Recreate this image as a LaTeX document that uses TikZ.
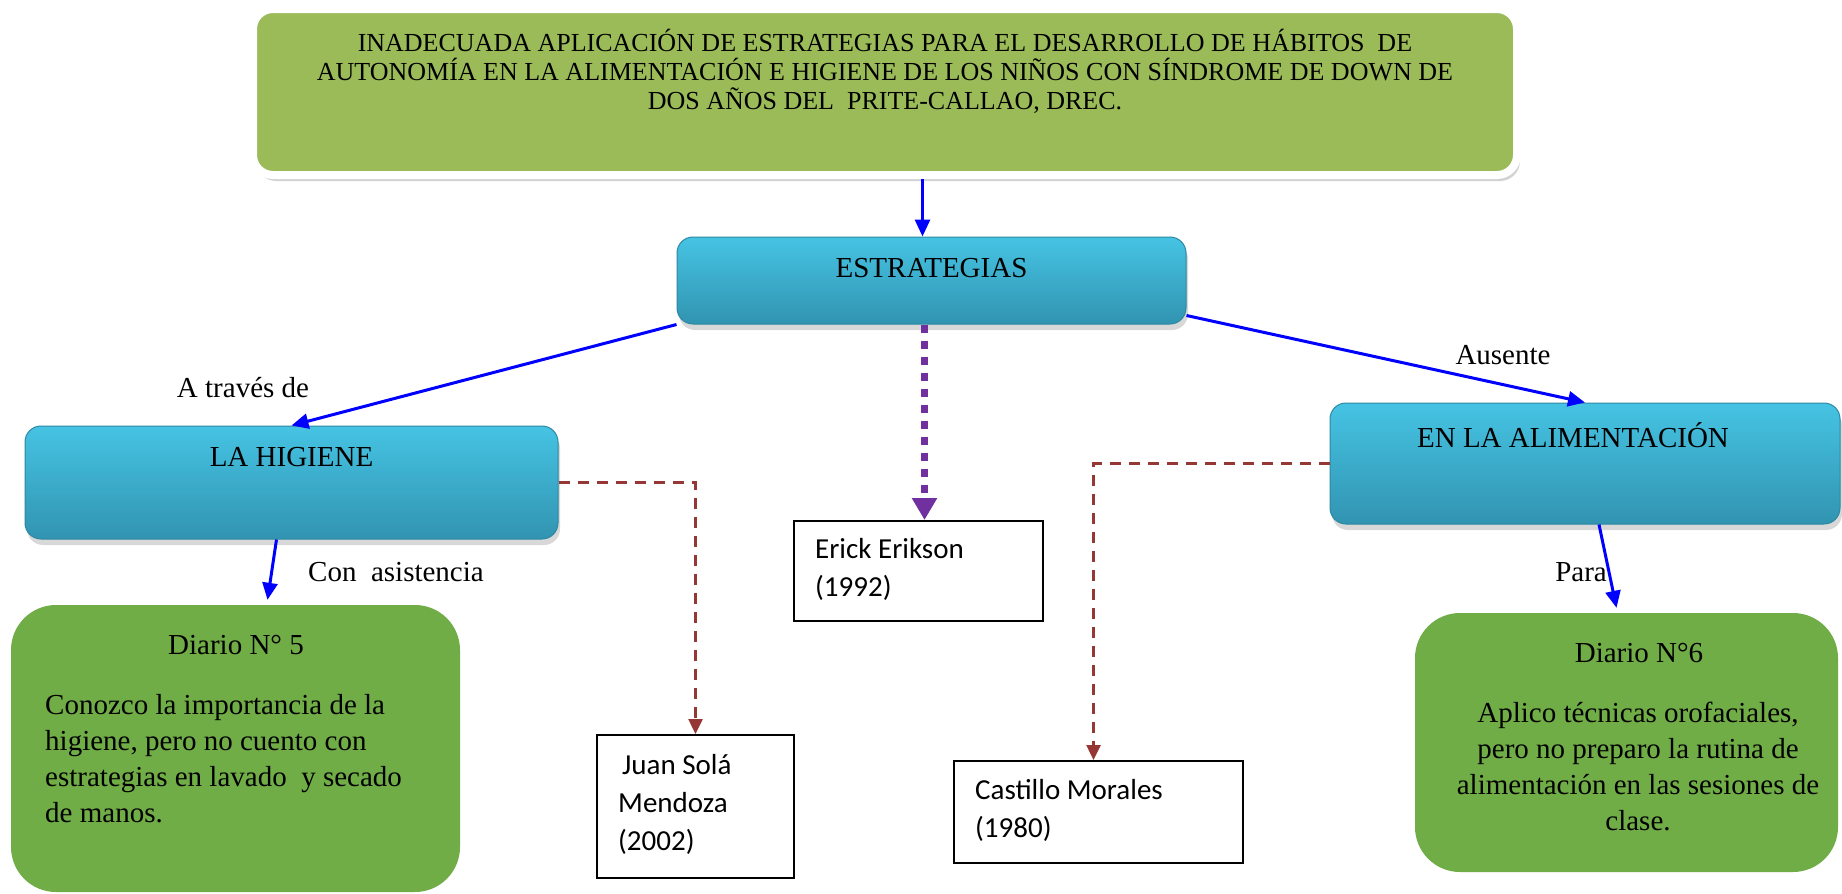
\documentclass[tikz,border=0pt]{standalone}
\usepackage{fontspec}
\setmainfont{Liberation Serif}
\newfontfamily\calibri{Carlito}
\usetikzlibrary{arrows.meta,shadows}
\definecolor{verdetitulo}{HTML}{9BBB59}
\definecolor{verdediario}{HTML}{70AD47}
\definecolor{azulclaro}{HTML}{46C3E3}
\definecolor{azuloscuro}{HTML}{3194B1}
\definecolor{azulborde}{HTML}{2C88A3}
\definecolor{rojo}{HTML}{953735}
\definecolor{morado}{HTML}{7030A0}
\newcommand{\letragrande}{\fontsize{29}{36}\selectfont}
\newcommand{\letratitulo}{\fontsize{26}{29}\selectfont}
\newcommand{\letraautor}{\calibri\fontsize{29}{38}\selectfont}
\tikzset{
  cajatitulo/.style={draw=white, line width=8pt, fill=verdetitulo, rounded corners=20pt,
    inner sep=0pt, drop shadow={shadow xshift=3pt, shadow yshift=-6pt, opacity=0.35}},
  cajaazul/.style={draw=azulborde, line width=1pt, top color=azulclaro, bottom color=azuloscuro,
    rounded corners=16pt, inner sep=0pt, drop shadow={shadow xshift=2pt, shadow yshift=-6pt, opacity=0.3}},
  cajaverde/.style={fill=verdediario, rounded corners=45pt, inner sep=0pt},
  cajaautor/.style={draw=black, line width=2pt, fill=white, inner sep=0pt},
  texto/.style={font=\letragrande, inner sep=0pt},
  flechaazul/.style={blue, line width=3pt, -{Triangle[length=17pt,width=15pt]}},
  flecharoja/.style={rojo, line width=2.5pt, dash pattern=on 11pt off 8pt, -{Triangle[length=15pt,width=14pt]}},
  flechamorada/.style={morado, line width=7pt, dash pattern=on 8pt off 8pt, -{Triangle[length=22pt,width=24pt]}}
}
\begin{document}
\begin{tikzpicture}[x=1pt,y=-1pt]
\useasboundingbox[fill=white] (0,0) rectangle (1842,894);
% cajas
\node[cajatitulo, minimum width=1264pt, minimum height=166pt] (titulo) at (885,92) {};
\node[texto, font=\letratitulo, align=center] (tituloTxt) at (885,71)
  {INADECUADA APLICACIÓN DE ESTRATEGIAS PARA EL DESARROLLO DE HÁBITOS\ \ DE\\
   AUTONOMÍA EN LA ALIMENTACIÓN E HIGIENE DE LOS NIÑOS CON SÍNDROME DE DOWN DE\\
   DOS AÑOS DEL\ \ PRITE-CALLAO, DREC.};
\node[cajaazul, minimum width=509pt, minimum height=87pt] (estrategias) at (931.5,280.5) {};
\node[texto] (estrategiasTxt) at ([yshift=12pt]estrategias.center) {ESTRATEGIAS};
\node[cajaazul, minimum width=533pt, minimum height=113pt] (higiene) at (291.5,482.5) {};
\node[texto] (higieneTxt) at ([yshift=25pt]higiene.center) {LA HIGIENE};
\node[cajaazul, minimum width=510pt, minimum height=121pt] (alimentacion) at (1585,463.5) {};
\node[texto] (alimentacionTxt) at ([xshift=-12pt,yshift=28pt]alimentacion.center) {EN LA ALIMENTACIÓN};
% diarios
\node[cajaverde, minimum width=449pt, minimum height=287pt] (diarioA) at (235.5,748.5) {};
\node[texto] (diarioATit) at (236,645) {Diario N° 5};
\node[texto, align=left, anchor=west] (diarioATxt) at (45,759)
  {Conozco la importancia de la\\ higiene, pero no cuento con\\ estrategias en lavado\ \ y secado\\ de manos.};
\node[cajaverde, minimum width=423pt, minimum height=259pt] (diarioB) at (1626.5,742.5) {};
\node[texto] (diarioBTit) at (1639,653) {Diario N°6};
\node[texto, align=center] (diarioBTxt) at (1638,766)
  {Aplico técnicas orofaciales,\\ pero no preparo la rutina de\\ alimentación en las sesiones de\\ clase.};
% autores
\node[cajaautor, minimum width=249pt, minimum height=100pt] (erikson) at (918.5,571) {};
\node[texto, font=\letraautor, align=left, anchor=west] (eriksonTxt) at (815,569) {Erick Erikson\\ (1992)};
\node[cajaautor, minimum width=197pt, minimum height=143pt] (sola) at (695.5,806.5) {};
\node[texto, font=\letraautor, align=left, anchor=west] (solaTxt) at (618,804) {\hspace{4pt}Juan Solá\\ Mendoza\\ (2002)};
\node[cajaautor, minimum width=289pt, minimum height=102pt] (castillo) at (1098.5,812) {};
\node[texto, font=\letraautor, align=left, anchor=west] (castilloTxt) at (975,810) {Castillo Morales\\ (1980)};
% conectores
\draw[flechaazul] ([xshift=-9pt]estrategias.north |- titulo.south) -- ([xshift=-9pt]estrategias.north);
\draw[flechaazul] (estrategias.south west) -- (higiene.north);
\draw[flechaazul] ([yshift=9pt]estrategias.south east) -- (alimentacion.north);
\draw[flechaazul] ([xshift=-15pt]higiene.south) -- ([xshift=32pt,yshift=5pt]diarioA.north);
\draw[flechaazul] ([xshift=14pt]alimentacion.south) -- ([xshift=-10pt,yshift=5pt]diarioB.north);
\draw[flechamorada] ([xshift=-7pt]estrategias.south) -- ([xshift=-7pt]estrategias.south |- erikson.north);
\draw[flecharoja] (higiene.east) -| (sola.north);
\draw[flecharoja] (alimentacion.west) -| ([xshift=-5pt]castillo.north);
% etiquetas
\node[texto] (atraves) at (243,388) {A través de};
\node[texto, anchor=west] (asistencia) at (308,572) {Con\ \ asistencia};
\node[texto] (ausente) at (1503,355) {Ausente};
\node[texto] (para) at (1581,572) {Para};
\end{tikzpicture}
\end{document}
